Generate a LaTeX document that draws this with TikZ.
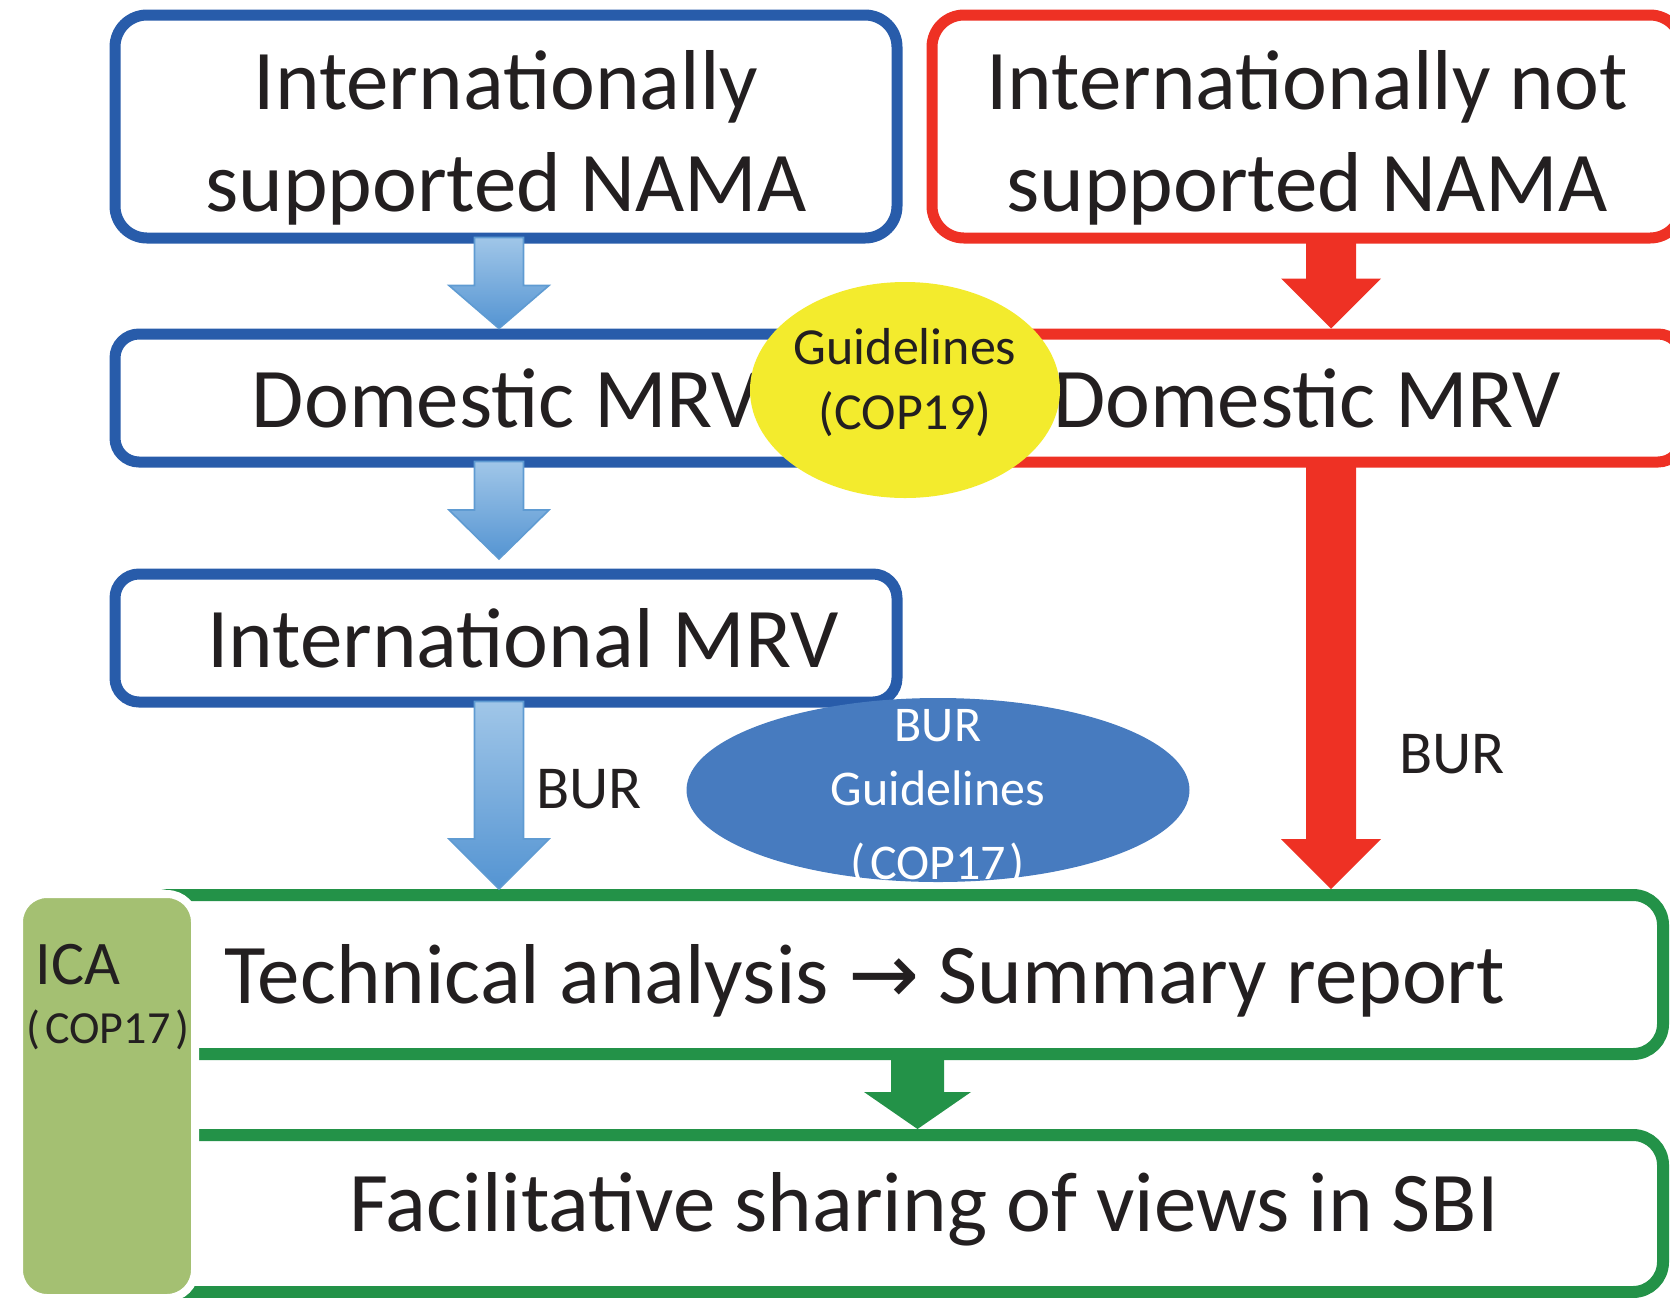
\documentclass[tikz,border=0pt]{standalone}
\usepackage{fontspec}
\setmainfont{Carlito}
\newfontfamily\arrowfont{DejaVu Sans}
\usetikzlibrary{shapes.geometric,calc}

\definecolor{nblue}{RGB}{40,92,170}
\definecolor{nred}{RGB}{238,49,36}
\definecolor{ngreen}{RGB}{35,146,72}
\definecolor{icafill}{RGB}{164,192,114}
\definecolor{guideyellow}{RGB}{243,235,45}
\definecolor{burblue}{RGB}{71,123,191}
\definecolor{arrowtop}{RGB}{160,198,232}
\definecolor{arrowbot}{RGB}{84,148,210}
\definecolor{arrowedge}{RGB}{95,155,210}
\definecolor{inkdark}{RGB}{35,31,32}

\tikzset{
  flowbox/.style={draw, fill=white, line width=5.5pt, rounded corners=12pt, inner sep=0pt,
    text=inkdark, align=center, font=\fontsize{42.5}{51}\selectfont},
  bluebox/.style={flowbox, draw=nblue},
  redbox/.style={flowbox, draw=nred},
  greenbox/.style={flowbox, draw=ngreen, line width=6pt, rounded corners=15pt},
  guideblob/.style={ellipse, inner sep=0pt},
  guidetext/.style={align=center, inner sep=0pt},
  burtext/.style={text=inkdark, inner sep=0pt, font=\fontsize{30.5}{36}\selectfont},
  bluearrow/.style={top color=arrowtop, bottom color=arrowbot, draw=arrowedge, line width=0.8pt},
  redarrow/.style={fill=nred},
  greenarrow/.style={fill=ngreen},
}

% block arrow: [style]{start}{tip}{head length}
\def\ashaft{12.25pt}
\def\ahead{25pt}
\newcommand{\blockarrow}[4][]{%
  \path[#1] let \p1=#2, \p2=#3 in
    (\x1-\ashaft,\y1+3pt) -- (\x1+\ashaft,\y1+3pt) -- (\x1+\ashaft,\y2+#4)
    -- (\x1+\ahead,\y2+#4) -- (\x1,\y2) -- (\x1-\ahead,\y2+#4)
    -- (\x1-\ashaft,\y2+#4) -- cycle;}

\begin{document}
\begin{tikzpicture}[x=1pt, y=-1pt]
\useasboundingbox (0,0) rectangle (835,648.5);
\clip (0,0) rectangle (835,648.5);

\coordinate (colB) at (249.5,0);
\coordinate (colR) at (665.5,0);
\coordinate (colG) at (458.75,0);

% boxes
\node[bluebox, rounded corners=16pt, minimum width=391pt, minimum height=111.5pt] (nama1) at (253,63.25)
  {\rule{0pt}{41pt}Internationally\\supported NAMA};
\node[redbox, rounded corners=16pt, minimum width=375pt, minimum height=111.5pt] (nama2) at (653.5,63.25)
  {\rule{0pt}{41pt}Internationally not\\supported NAMA};
\node[bluebox, minimum width=391pt, minimum height=64pt] (dom1) at (253,199) {Domestic MRV};
\node[redbox, minimum width=375pt, minimum height=64pt] (dom2) at (653.5,199) {Domestic MRV};
\node[bluebox, minimum width=391pt, minimum height=64pt] (intl) at (253,319) {\hspace*{17pt}International MRV};
\node[greenbox, minimum width=761.5pt, minimum height=79.5pt] (tech) at (450.75,487.25)
  {\hspace*{-37pt}\rule{0pt}{36pt}Technical analysis {\arrowfont →} Summary report};
\node[greenbox, minimum width=761.5pt, minimum height=78.5pt] (share) at (450.75,606.75)
  {\hspace*{22.5pt}\rule[-12pt]{0pt}{12pt}Facilitative sharing of views in SBI};

% arrows
\blockarrow[bluearrow]{(nama1.south -| colB)}{(dom1.north -| colB)}{21.5pt}
\blockarrow[bluearrow]{(dom1.south -| colB)}{($(intl.north -| colB)+(0,-4.75)$)}{24.5pt}
\blockarrow[bluearrow]{(intl.south -| colB)}{(tech.north -| colB)}{25pt}
\def\ashaft{12.5pt}
\blockarrow[redarrow]{(nama2.south -| colR)}{(dom2.north -| colR)}{25pt}
\blockarrow[redarrow]{(dom2.south -| colR)}{(tech.north -| colR)}{25pt}
\def\ashaft{13.25pt}\def\ahead{26.75pt}
\blockarrow[greenarrow]{(tech.south -| colG)}{(share.north -| colG)}{18.5pt}

\node[burtext, anchor=base west] (burL) at (268,404) {BUR};
\node[burtext, anchor=base west] (burR) at (699.5,386.5) {BUR};

% guideline ellipses
\node[guideblob, fill=guideyellow, minimum width=155pt, minimum height=108pt,
  label={[guidetext, text=inkdark, font=\fontsize{26}{32.5}\selectfont]center:{Guidelines\\(COP19)\rule[-11pt]{0pt}{1pt}}}]
  (cop19) at (452.5,195) {};
\node[guideblob, fill=burblue, minimum width=251.5pt, minimum height=92pt,
  label={[guidetext, text=white, font=\fontsize{25}{32}\selectfont]center:{\rule{0pt}{24pt}BUR\\Guidelines\\[5pt](\kern2pt COP17\kern2pt)}}]
  (cop17) at (469,395) {};

% ICA side bar
\node[draw=white, fill=icafill, line width=4pt, rounded corners=14pt, inner sep=0pt,
  minimum width=88pt, minimum height=202pt] (ica) at (53.5,548) {};
\node[anchor=north west, inner sep=0pt, align=left, text=inkdark, font=\fontsize{23}{29.5}\selectfont]
  (icaname) at (13,471.9) {{\fontsize{31}{29.5}\selectfont\hspace*{4.5pt}ICA}\\(\kern2.5pt COP17\kern2.5pt)};
\end{tikzpicture}
\end{document}
